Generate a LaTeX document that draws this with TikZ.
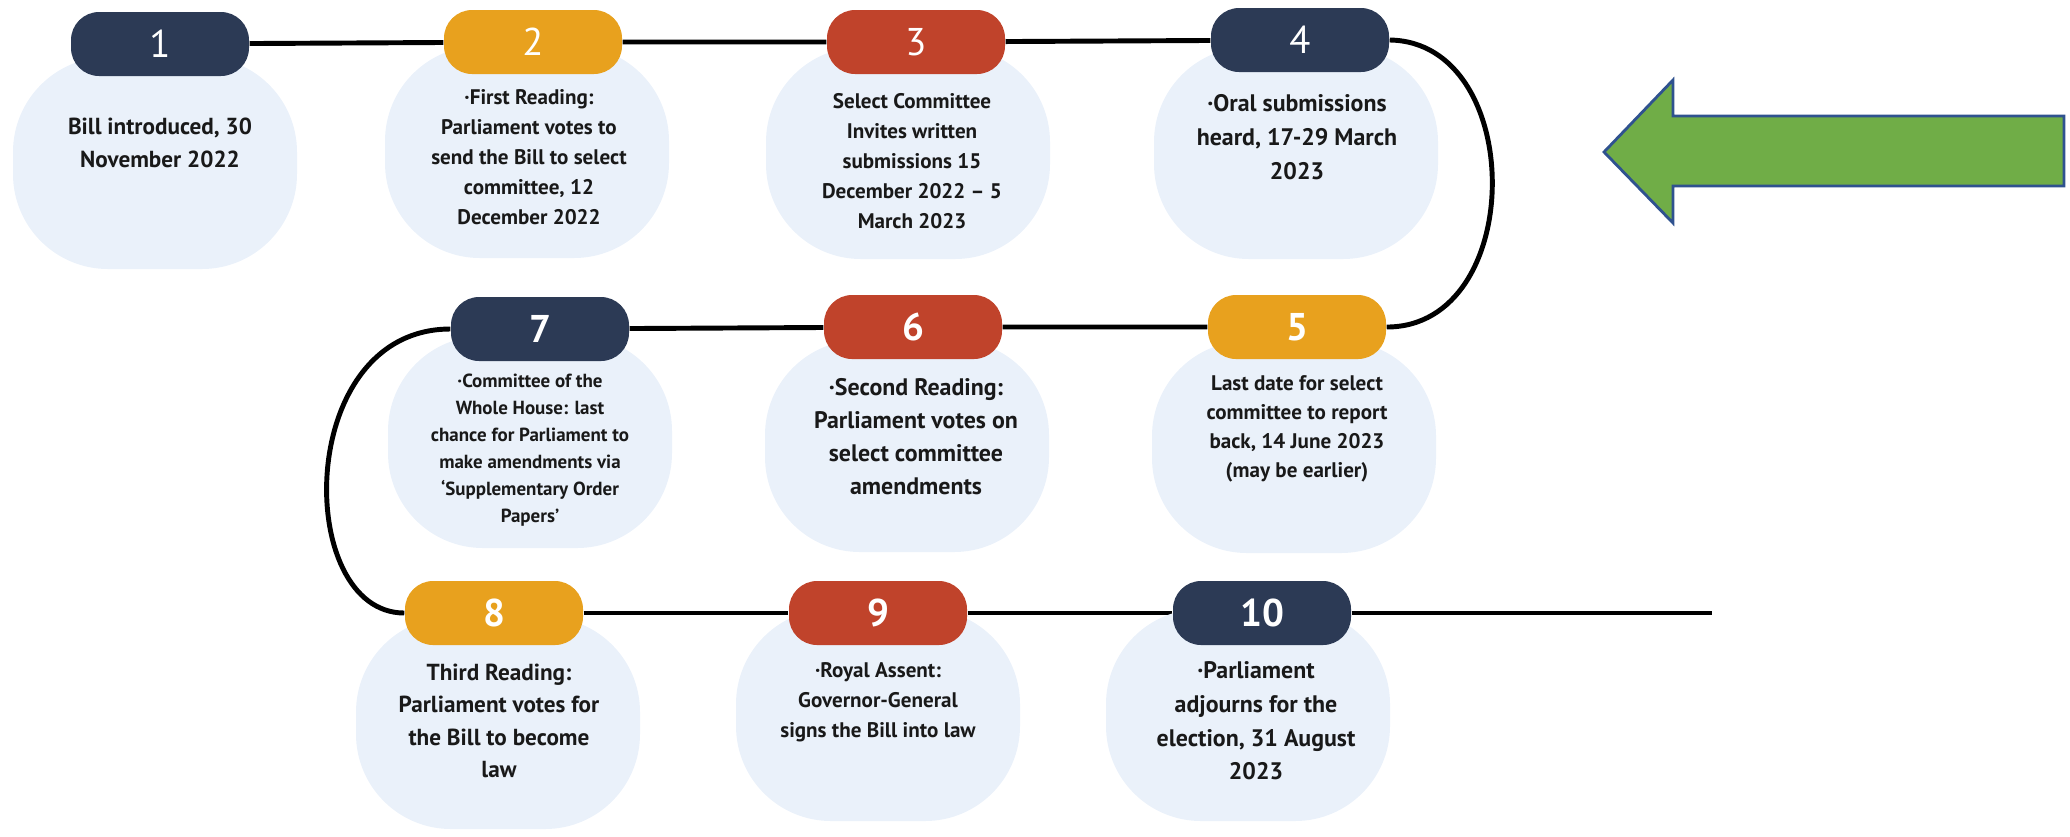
\documentclass[tikz,border=0pt]{standalone}
\usepackage{fontspec}
\setmainfont{PT Sans}
\usetikzlibrary{backgrounds}

\definecolor{stepnavy}{HTML}{2C3A55}
\definecolor{steporange}{HTML}{E8A11E}
\definecolor{stepred}{HTML}{C0432B}
\definecolor{blobblue}{HTML}{EAF1FA}
\definecolor{arrowgreen}{HTML}{70AD47}
\definecolor{arrowblue}{HTML}{2F528F}

\begin{document}
\begin{tikzpicture}[
    blob/.style={rectangle, rounded corners=0.95cm, fill=blobblue, minimum width=2.84cm, minimum height=2.12cm, inner sep=0pt},
    pill/.style={rectangle, rounded corners=8pt, minimum width=1.78cm, minimum height=0.64cm,
        inner sep=0pt, text=white, font=\fontsize{11}{13}\selectfont},
    stage/.style={align=center, text=black!90, font=\bfseries\fontsize{6}{8.5}\selectfont},
    timeline/.style={line width=1.4pt, black}
]
    \useasboundingbox (0,0) rectangle (20.70,-8.36);
    % background blobs
    \foreach \n/\x/\y in {1/1.55/-1.63, 2/5.27/-1.52, 3/9.08/-1.53, 4/12.96/-1.53,
        5/12.94/-4.47, 6/9.07/-4.46, 7/5.30/-4.42, 8/4.98/-7.23, 9/8.78/-7.15, 10/12.48/-7.15}
        {
            \node[blob] (b\n) at (\x,\y) {};
        }
    % step numbers
    \foreach \n/\x/\y/\c in {1/1.60/-0.44/stepnavy, 2/5.33/-0.42/steporange, 3/9.16/-0.42/stepred,
        4/13.00/-0.40/stepnavy, 5/12.97/-3.27/steporange, 6/9.13/-3.27/stepred,
        7/5.40/-3.29/stepnavy, 8/4.94/-6.13/steporange, 9/8.78/-6.13/stepred, 10/12.62/-6.13/stepnavy}
        {
            \node[pill, fill=\c] (p\n) at (\x,\y) {\ifnum\n>4 \bfseries\fi\n};
        }
    % step texts
    \node[stage, font=\bfseries\fontsize{6.6}{9.4}\selectfont] (t1) at (1.60,-1.43) {Bill introduced, 30\\November 2022};
    \node[stage] (t2) at (5.29,-1.57) {·First Reading:\\Parliament votes to\\send the Bill to select\\committee, 12\\December 2022};
    \node[stage] (t3) at (9.12,-1.61) {Select Committee\\Invites written\\submissions 15\\December 2022 – 5\\March 2023};
    \node[stage, font=\bfseries\fontsize{6.8}{9.6}\selectfont] (t4) at (12.97,-1.37) {·Oral submissions\\heard, 17-29 March\\2023};
    \node[stage, font=\bfseries\fontsize{6}{8.3}\selectfont] (t5) at (12.97,-4.29) {Last date for select\\committee to report\\back, 14 June 2023\\(may be earlier)};
    \node[stage, font=\bfseries\fontsize{6.8}{9.4}\selectfont] (t6) at (9.16,-4.37) {·Second Reading:\\Parliament votes on\\select committee\\amendments};
    \node[stage, font=\bfseries\fontsize{5.4}{7.7}\selectfont] (t7) at (5.30,-4.50) {·Committee of the\\Whole House: last\\chance for Parliament to\\make amendments via\\‘Supplementary Order\\Papers’};
    \node[stage, font=\bfseries\fontsize{6.6}{9.2}\selectfont] (t8) at (4.99,-7.21) {Third Reading:\\Parliament votes for\\the Bill to become\\law};
    \node[stage, font=\bfseries\fontsize{6}{8.6}\selectfont] (t9) at (8.78,-7.02) {·Royal Assent:\\Governor-General\\signs the Bill into law};
    \node[stage, font=\bfseries\fontsize{6.8}{9.6}\selectfont] (t10) at (12.56,-7.21) {·Parliament\\adjourns for the\\election, 31 August\\2023};
    % timeline
    \coordinate (tend) at (17.12,-6.13);
    \begin{scope}[on background layer]
        \draw[timeline] (p1) -- (p2) -- (p3) -- (p4);
        \draw[timeline] (p4.east) .. controls (15.27,-0.42) and (15.27,-3.27) .. (p5.east);
        \draw[timeline] (p5) -- (p6) -- (p7);
        \draw[timeline] (p7.west) .. controls (2.94,-3.29) and (2.94,-6.13) .. (p8.west);
        \draw[timeline] (p8) -- (p9) -- (p10) -- (tend);
    \end{scope}
    % big arrow
    \draw[fill=arrowgreen, draw=arrowblue, line width=0.8pt]
        (16.04,-1.52) -- (16.73,-0.80) -- (16.73,-1.16) -- (20.64,-1.16)
        -- (20.64,-1.86) -- (16.73,-1.86) -- (16.73,-2.23) -- cycle;
\end{tikzpicture}
\end{document}
